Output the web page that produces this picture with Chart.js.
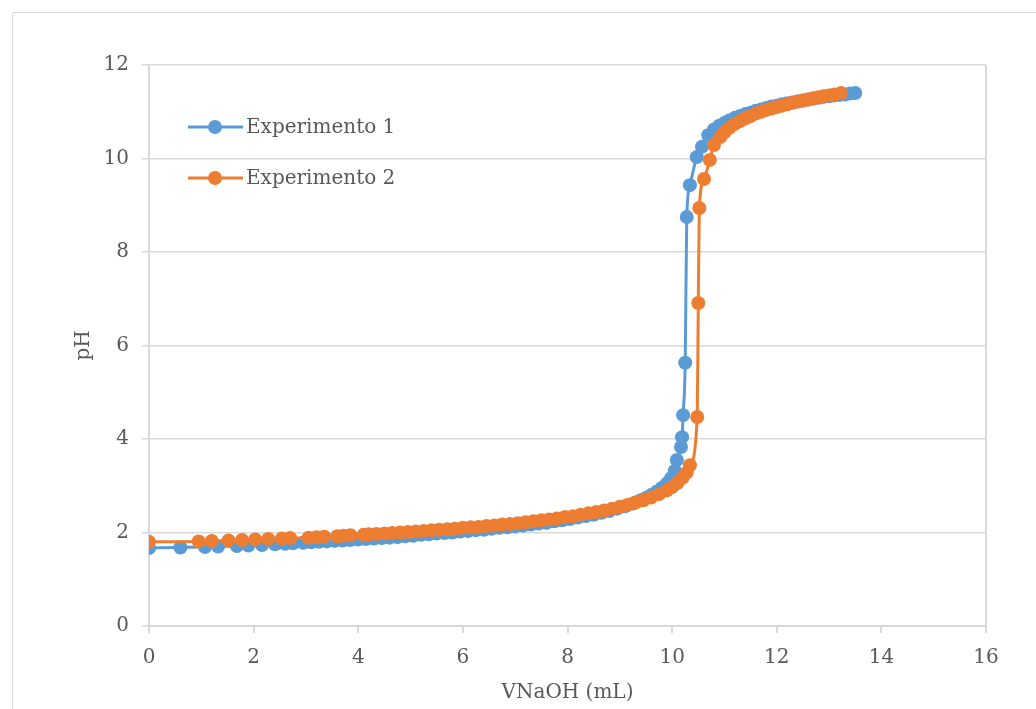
<!DOCTYPE html>
<html>
<head>
<meta charset="utf-8">
<script src="https://cdn.jsdelivr.net/npm/chart.js@4/dist/chart.umd.min.js"></script>
<style>
    html, body { margin: 0; padding: 0; background: #fff; }
    #wrap { width: 1036px; height: 709px; position: relative; }
</style>
</head>
<body>
<div id="wrap"><canvas id="chart" width="1036" height="709"></canvas></div>
<script>
// --- Data --- //
const seriesNames = ['Experimento 1', 'Experimento 2'];

const vol1 = [0, 0.6, 1.07, 1.32, 1.68, 1.9, 2.16, 2.41, 2.6, 2.75, 2.95, 3.1, 3.25, 3.4, 3.55, 3.7, 3.85, 4.0, 4.15, 4.3,
    4.45, 4.6, 4.75, 4.9, 5.05, 5.2, 5.35, 5.5, 5.65, 5.8, 5.95, 6.1, 6.25, 6.4, 6.55, 6.7, 6.85, 7.0, 7.15, 7.3,
    7.45, 7.6, 7.75, 7.9, 8.05, 8.2, 8.35, 8.5, 8.65, 8.8, 8.95, 9.1, 9.25, 9.4, 9.5, 9.6, 9.7, 9.8, 9.9, 9.98,
    10.05, 10.09, 10.17, 10.19, 10.21, 10.25, 10.28, 10.34, 10.47, 10.57, 10.69, 10.8, 10.9, 11.0, 11.1, 11.2, 11.3, 11.4, 11.5, 11.6,
    11.7, 11.8, 11.9, 12.0, 12.1, 12.2, 12.3, 12.4, 12.5, 12.6, 12.7, 12.8, 12.9, 13.0, 13.1, 13.2, 13.3, 13.4, 13.5];
const ph1 = [1.67, 1.68, 1.69, 1.70, 1.71, 1.72, 1.73, 1.75, 1.76, 1.77, 1.78, 1.79, 1.80, 1.81, 1.82, 1.83, 1.84, 1.85, 1.86, 1.87,
    1.88, 1.89, 1.90, 1.92, 1.93, 1.95, 1.96, 1.98, 1.99, 2.00, 2.02, 2.03, 2.05, 2.06, 2.08, 2.10, 2.11, 2.13, 2.15, 2.17,
    2.19, 2.21, 2.24, 2.26, 2.29, 2.32, 2.35, 2.38, 2.42, 2.46, 2.51, 2.56, 2.62, 2.69, 2.74, 2.80, 2.87, 2.95, 3.05, 3.16,
    3.32, 3.55, 3.83, 4.04, 4.51, 5.63, 8.75, 9.43, 10.03, 10.25, 10.50, 10.62, 10.70, 10.76, 10.82, 10.87, 10.91, 10.95, 10.98, 11.02,
    11.05, 11.08, 11.11, 11.13, 11.16, 11.18, 11.20, 11.22, 11.24, 11.26, 11.28, 11.30, 11.32, 11.33, 11.35, 11.36, 11.37, 11.39, 11.40];

const vol2 = [0, 0.95, 1.2, 1.52, 1.78, 2.03, 2.28, 2.54, 2.7, 3.05, 3.2, 3.35, 3.6, 3.72, 3.85, 4.1, 4.2, 4.35, 4.5, 4.65,
    4.8, 4.95, 5.1, 5.25, 5.4, 5.55, 5.7, 5.85, 6.0, 6.15, 6.3, 6.45, 6.6, 6.75, 6.9, 7.05, 7.2, 7.35, 7.5, 7.65,
    7.8, 7.95, 8.1, 8.25, 8.4, 8.55, 8.7, 8.85, 9.0, 9.15, 9.3, 9.45, 9.6, 9.75, 9.9, 10.0, 10.1, 10.2, 10.28, 10.34,
    10.48, 10.5, 10.52, 10.61, 10.72, 10.8, 10.92, 11.0, 11.1, 11.2, 11.3, 11.4, 11.5, 11.6, 11.7, 11.8, 11.9, 12.0, 12.1, 12.2,
    12.3, 12.4, 12.5, 12.6, 12.7, 12.8, 12.9, 13.0, 13.1, 13.23];
const ph2 = [1.80, 1.81, 1.82, 1.83, 1.84, 1.85, 1.86, 1.87, 1.88, 1.89, 1.90, 1.91, 1.92, 1.93, 1.94, 1.95, 1.96, 1.97, 1.98, 1.99,
    2.00, 2.01, 2.02, 2.03, 2.05, 2.06, 2.07, 2.08, 2.10, 2.11, 2.12, 2.14, 2.15, 2.17, 2.18, 2.20, 2.22, 2.24, 2.26, 2.28,
    2.30, 2.33, 2.35, 2.38, 2.41, 2.44, 2.47, 2.51, 2.55, 2.59, 2.64, 2.69, 2.75, 2.82, 2.90, 2.97, 3.06, 3.17, 3.28, 3.44,
    4.47, 6.91, 8.94, 9.56, 9.97, 10.29, 10.46, 10.56, 10.66, 10.74, 10.80, 10.86, 10.91, 10.96, 11.00, 11.04, 11.07, 11.10, 11.13, 11.16,
    11.19, 11.22, 11.24, 11.26, 11.29, 11.31, 11.33, 11.35, 11.37, 11.40];

const xTitle = 'VNaOH (mL)';
const yTitle = 'pH';

// --- Styling --- //
const FONT = "'DejaVu Serif', serif";
const TEXT = '#595959';
const BLUE = '#5B9BD5';
const ORANGE = '#ED7D31';

function toPoints(xs, ys) {
    return xs.map((x, i) => ({ x: x, y: ys[i] }));
}

// frame around the chart
const framePlugin = {
    id: 'frame',
    beforeDraw(chart) {
        const ctx = chart.ctx;
        ctx.save();
        ctx.fillStyle = '#fff';
        ctx.fillRect(0, 0, chart.width, chart.height);
        ctx.strokeStyle = '#D9D9D9';
        ctx.lineWidth = 1;
        ctx.beginPath();
        ctx.moveTo(12.5, chart.height);
        ctx.lineTo(12.5, 12.5);
        ctx.lineTo(chart.width, 12.5);
        ctx.stroke();
        ctx.restore();
    }
};

// legend drawn inside the plot area (line + marker, like the original)
const insideLegend = {
    id: 'insideLegend',
    afterDraw(chart, args, opts) {
        const ctx = chart.ctx;
        ctx.save();
        ctx.font = '20px ' + FONT;
        ctx.textBaseline = 'middle';
        chart.data.datasets.forEach((ds, i) => {
            const y = opts.top + i * opts.gap;
            ctx.strokeStyle = ds.borderColor;
            ctx.lineWidth = 3;
            ctx.beginPath();
            ctx.moveTo(opts.left, y);
            ctx.lineTo(opts.left + 55, y);
            ctx.stroke();
            ctx.fillStyle = ds.backgroundColor;
            ctx.beginPath();
            ctx.arc(opts.left + 27, y, 7, 0, Math.PI * 2);
            ctx.fill();
            ctx.fillStyle = TEXT;
            ctx.fillText(ds.label, opts.left + 58, y + 1);
        });
        ctx.restore();
    }
};

const ctx = document.getElementById('chart').getContext('2d');
new Chart(ctx, {
    type: 'line',
    data: {
        datasets: [
            {
                label: seriesNames[0],
                data: toPoints(vol1, ph1),
                borderColor: BLUE,
                backgroundColor: BLUE,
                borderWidth: 3,
                pointRadius: 7,
                pointBorderWidth: 0,
                cubicInterpolationMode: 'monotone',
                order: 2
            },
            {
                label: seriesNames[1],
                data: toPoints(vol2, ph2),
                borderColor: ORANGE,
                backgroundColor: ORANGE,
                borderWidth: 3,
                pointRadius: 7,
                pointBorderWidth: 0,
                cubicInterpolationMode: 'monotone',
                order: 1
            }
        ]
    },
    options: {
        responsive: false,
        animation: false,
        layout: { padding: { left: 0, top: 65, right: 50, bottom: 0 } },
        plugins: {
            legend: { display: false },
            tooltip: { enabled: false },
            insideLegend: { left: 188, top: 127, gap: 51 }
        },
        scales: {
            x: {
                type: 'linear',
                min: 0,
                max: 16,
                ticks: { stepSize: 2, color: TEXT, font: { family: FONT, size: 20 }, padding: 13 },
                grid: {
                    color: c => (c.tick && c.tick.value === 16) ? '#D9D9D9' : 'rgba(0,0,0,0)',
                    lineWidth: 2,
                    tickColor: '#D9D9D9',
                    tickLength: 7
                },
                border: { color: '#D9D9D9', width: 2 },
                title: { display: true, text: xTitle, color: TEXT, font: { family: FONT, size: 20 }, padding: { top: 4 } },
                afterFit: s => { s.height = 83; }
            },
            y: {
                min: 0,
                max: 12,
                ticks: { stepSize: 2, color: TEXT, font: { family: FONT, size: 20 }, padding: 13 },
                grid: { color: '#D9D9D9', lineWidth: 1.5, tickColor: '#D9D9D9', tickLength: 7 },
                border: { color: '#D9D9D9', width: 2 },
                title: { display: true, text: yTitle, color: TEXT, font: { family: FONT, size: 20 }, padding: { top: 72, bottom: 0 } },
                afterFit: s => { s.width = 149; }
            }
        }
    },
    plugins: [framePlugin, insideLegend]
});
</script>
</body>
</html>
